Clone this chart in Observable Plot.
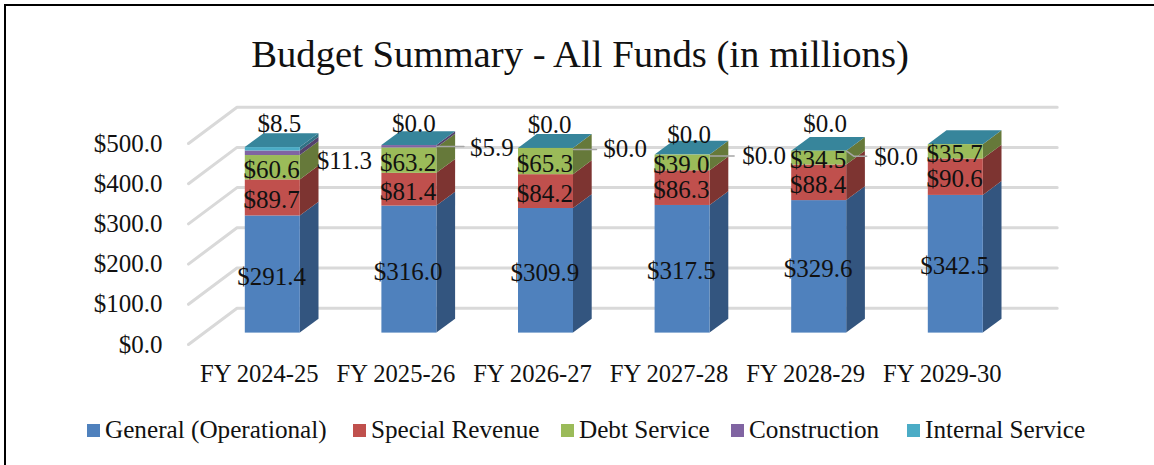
<!DOCTYPE html>
<html>
<head>
<meta charset="utf-8">
<script src="https://cdn.jsdelivr.net/npm/d3@7"></script>
<script src="https://cdn.jsdelivr.net/npm/@observablehq/plot@0.6"></script>
<style>
  html, body { margin: 0; padding: 0; background: #fff; overflow: hidden; }
  #frame { position: absolute; left: 4px; top: 4px; width: 1150px; height: 461px; border-left: 2px solid #000; border-top: 2px solid #000; box-sizing: border-box; overflow: hidden; font-family: "Liberation Serif", serif; color: #111; }
  #title { position: absolute; left: 0; right: 0; top: 23px; text-align: center; font-size: 38.7px; line-height: 50px; margin-left: 0px; }
  #chart { position: absolute; left: -6px; top: 84px; }
  #legend { position: absolute; left: 81px; top: 409px; height: 30px; font-size: 25.2px; white-space: nowrap; }
  #legend .sw { width: 13px; height: 13px; margin-right: 5px; flex: none; position: relative; top: 0px; }
  #legend .it { display: flex; align-items: center; position: absolute; top: 0; height: 30px; }
</style>
</head>
<body>
<div id="frame">
  <div id="title">Budget Summary - All Funds (in millions)</div>
  <div id="chart"></div>
  <div id="legend"></div>
</div>
<script>
const categories = ["FY 2024-25", "FY 2025-26", "FY 2026-27", "FY 2027-28", "FY 2028-29", "FY 2029-30"];
const seriesNames = ["General (Operational)", "Special Revenue", "Debt Service", "Construction", "Internal Service"];
const general = [291.4, 316.0, 309.9, 317.5, 329.6, 342.5];
const specialRevenue = [89.7, 81.4, 84.2, 86.3, 88.4, 90.6];
const debtService = [60.6, 63.2, 65.3, 39.0, 34.5, 35.7];
const construction = [11.3, 5.9, 0.0, 0.0, 0.0, null];
const internalService = [8.5, 0.0, 0.0, 0.0, 0.0, null];
const seriesValues = [general, specialRevenue, debtService, construction, internalService];
const yTicks = [0, 100, 200, 300, 400, 500];

const frontColors = ["#4F81BD", "#C0504D", "#9BBB59", "#8064A2", "#4BACC6"];
const sideColors = ["#33557F", "#7D3431", "#66793A", "#54426C", "#317184"];
const topColor = "#37859B";

// Layout of the fake 3-D box, in scale units
const originX = 272.3;
const pxX = 136.6, pxY = 0.402;
const barHalf = 27.5 / pxX, depX = 18.7 / pxX, depY = 13.8 / pxY;
const wallFrontX = (188 - originX) / pxX, wallBackX = (236.5 - originX) / pxX, wallEndX = (1056.7 - originX) / pxX;
const wallFrontY = -11.4 / pxY, wallBackY = 24.9 / pxY;

const fmt = v => "$" + v.toFixed(1);

// Build faces
const fronts = [], sides = [], tops = [], inside = [];
categories.forEach((c, i) => {
  let base = 0;
  seriesValues.forEach((vals, s) => {
    const v = vals[i] ?? 0;
    const x1 = i - barHalf, x2 = i + barHalf;
    fronts.push({x1, x2, y1: base, y2: base + v, fill: frontColors[s]});
    const key = i + "-" + s;
    sides.push({key, x: x2, y1: base, y2: base + v, fill: sideColors[s]});
    sides.push({key, x: x2 + depX, y1: base + depY, y2: base + v + depY, fill: sideColors[s]});
    if (s < 3) inside.push({x: i, y: base + v / 2, text: fmt(v)});
    base += v;
  });
  const x1 = i - barHalf, x2 = i + barHalf;
  tops.push({key: i, x: x1, y1: base, y2: base});
  tops.push({key: i, x: x1 + depX, y1: base, y2: base + depY});
  tops.push({key: i, x: x2, y1: base, y2: base + depY});
  tops.push({key: i, x: x2 + depX, y1: base + depY, y2: base + depY});
});

const totals = categories.map((c, i) => d3.sum(seriesValues, vals => vals[i] ?? 0));

// Grid
const grid = yTicks.flatMap(t => [
  {t, x: wallFrontX, y: t + wallFrontY},
  {t, x: wallBackX, y: t + wallBackY},
  {t, x: wallEndX, y: t + wallBackY}
]);

// Manually dragged labels: pixel nudges from the stack top of each bar
const topNudge = [[6.5, -24], [4.5, -22], [3.5, -23], [6.5, -20], [6, -27]];
const sideNudge = [[71.5, 13], [82.5, 2], [79, 1], [81.5, 1], [77, 6]];
const leaderLen = [0, 27, 23, 24, 20];

const valueLabel = (i, v, [dx, dy]) => Plot.text([{x: i, y: totals[i], text: fmt(v)}], {
  x: "x", y: "y", text: "text", dx, dy, fill: "#111", fontSize: 25
});

const leaders = [1, 2, 3, 4].flatMap(i => {
  const x0 = i + barHalf, y0 = totals[i], len = leaderLen[i] / pxX;
  return i === 4
    ? [{i, x: x0, y: y0}, {i, x: x0 + 7 / pxX, y: y0 - 5 / pxY}, {i, x: x0 + len, y: y0 - 5 / pxY}]
    : [{i, x: x0, y: y0 - 1 / pxY}, {i, x: x0 + len, y: y0 - 1 / pxY}];
});

const plot = Plot.plot({
  width: 1154, height: 326,
  marginLeft: 162, marginRight: 0, marginTop: 0, marginBottom: 52,
  x: {type: "linear", domain: [-1, 6], range: [originX - pxX, originX + 6 * pxX]},
  y: {type: "linear", domain: [0, 500], range: [332.6 - 90, 332.6 - 90 - 201]},
  style: {fontFamily: "Liberation Serif, serif", background: "transparent", overflow: "visible"},
  marks: [
    Plot.line(grid, {x: "x", y: "y", z: "t", stroke: "#D9D9D9", strokeWidth: 3, curve: "linear"}),
    Plot.areaY(sides, {x: "x", y1: "y1", y2: "y2", z: "key", fill: "fill", curve: "linear"}),
    Plot.areaY(tops, {x: "x", y1: "y1", y2: "y2", z: "key", fill: topColor, curve: "linear"}),
    Plot.rect(fronts, {x1: "x1", x2: "x2", y1: "y1", y2: "y2", fill: "fill"}),
    Plot.line(leaders, {x: "x", y: "y", z: "i", stroke: "#A6A6A6", strokeWidth: 1.5, curve: "linear"}),
    Plot.text(inside, {x: "x", y: "y", text: "text", dx: -1.2, dy: 2, fill: "#111", fontSize: 25}),
    ...internalService.slice(0, 5).map((v, i) => valueLabel(i, v, topNudge[i])),
    ...construction.slice(0, 5).map((v, i) => valueLabel(i, v, sideNudge[i])),
    Plot.axisY({ticks: yTicks, tickSize: 0, tickPadding: 0, dy: 11.5, tickFormat: fmt, fontSize: 25, label: null, fill: "#111"}),
    Plot.axisX({ticks: d3.range(6), tickSize: 0, tickPadding: 0, dx: -13.5, tickFormat: i => categories[i], fontSize: 24.6, label: null, fill: "#111"})
  ]
});
document.getElementById("chart").appendChild(plot);

const legendLefts = [0, 266, 474, 644, 820];
const legend = document.getElementById("legend");
seriesNames.forEach((n, i) => {
  const it = document.createElement("div");
  it.className = "it";
  it.style.left = legendLefts[i] + "px";
  const sw = document.createElement("span");
  sw.className = "sw";
  sw.style.background = frontColors[i];
  const t = document.createElement("span");
  t.textContent = n;
  it.append(sw, t);
  legend.append(it);
});
</script>
</body>
</html>
